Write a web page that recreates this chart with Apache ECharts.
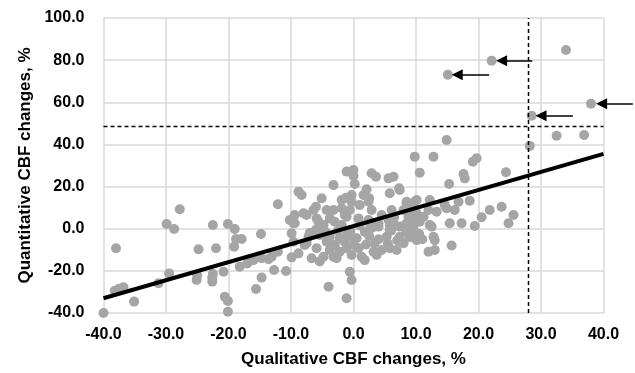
<!DOCTYPE html>
<html>
<head>
<meta charset="utf-8">
<title>CBF changes</title>
<script src="https://cdn.jsdelivr.net/npm/echarts@6/dist/echarts.min.js"></script>
<style>
  html, body { margin: 0; padding: 0; background: #fff; }
  #chart { width: 635px; height: 373px; }
</style>
</head>
<body>
<div id="chart"></div>
<script>
// qualitative (x) vs quantitative (y) CBF change, %
const points = [
  [-40, -40], [-38, -9.3], [-38.2, -29.4], [-37.5, -28.5], [-36.8, -27.8], [-35.1, -34.6],
  [-31.2, -25.9], [-29.5, -21.2], [-27.8, 9.2], [-29.9, 2.2], [-28.7, -0.1], [-25.1, -24.3],
  [-25, -22.2], [-24.8, -9.8], [-22.5, 1.8], [-22, -9.3], [-22.5, -21.5], [-22.6, -23.2],
  [-22.6, -25.1], [-20.8, -20.4], [-20.6, -32.3], [-20.1, -34.3], [-20.1, -39.4], [-20.1, 2.2],
  [-19, -0.1], [-18.8, -4.9], [-17.9, -4.9], [-19.1, -8.5], [-18.2, -18.0], [-17, -16.5],
  [-16, -14.9], [-14.8, -2.5], [-14.7, -14.0], [-13.6, -14.5], [-13.1, -13.3], [-14.7, -23.2],
  [-15.6, -28.6], [-12.7, -19.6], [-10.8, -20.1], [-12.1, 11.6], [-12.1, -10.9], [-10.2, 4.1],
  [-9.9, -2.2], [-9.9, -13.6], [-9.6, 2.6], [-8.8, -11.7],
  [-8.8, 17.6], [-8.3, 16.0], [-5.1, 14.4], [-6.0, 10.4], [-6.4, 8.9], [-9.4, 6.5],
  [-8.0, 7.3], [-7.5, 6.5], [-4.3, 8.9], [-3.2, 8.9], [-1.9, 9.7], [-1.9, 13.6],
  [-1.1, 27.1], [-3.2, 20.7], [-9.4, 2.6], [-5.6, 3.3], [-4.8, 1.8], [-3.8, 4.9],
  [-3.0, 3.3], [-1.9, 1.8], [-1.4, 6.5], [-1.2, 14.7], [-5.9, 4.9], [-1.1, 5.7],
  [-6.7, -14.0], [-5.4, -15.6], [-4.8, -13.3], [-4.0, -27.5], [-1.1, -33.0], [-9.6, -6.2],
  [-7.5, -6.9], [-7.8, -7.7], [-5.9, -9.3], [-4.3, -6.2], [-3.0, -7.7], [-2.2, -10.9],
  [-1.1, -9.3], [-5.4, -3.0], [-3.8, -3.8], [-2.2, -4.6], [-1.4, -6.2], [-3.2, -13.3],
  [-7.0, -2.0], [-6.0, -0.5], [-4.5, -1.5], [-2.5, -1.0], [-1.0, -2.5], [-7.2, -3.8],
  [-5.4, -1.4], [-3.8, -10.1], [-2.7, -14.0],
  [0, 27.9], [0, 25.0], [0.2, 21.2], [2.9, 26.3], [3.6, 24.7], [5.6, 23.9],
  [6.4, 24.7], [2.1, 18.7], [7.3, 19.2], [5.8, 16.8], [1.6, 16.0], [-0.3, 16.0],
  [-0.3, 12.8], [-0.6, 8.9], [1.0, 11.2], [2.9, 8.9], [4.5, 6.5], [6.1, 8.9],
  [8.5, 12.1], [8.0, 8.9], [9.6, 10.4], [0.8, 4.9], [2.4, 4.1], [4.0, 2.6],
  [5.6, 4.1], [6.6, 1.8], [8.5, 2.6], [9.3, 3.3], [2.5, 14.4], [2.4, 12.8],
  [2.6, 2.6], [5.8, 1.8], [5.8, -0.6], [7.4, 1.0], [8.8, 5.7], [10.1, 7.3], [10.6, 3.3],
  [-0.6, -20.4], [-0.3, -24.3], [-0.3, -12.5], [1.8, -14.9], [1.3, -13.3], [3.7, -12.5],
  [4.5, -10.1], [6.9, -10.1], [8.0, -6.9], [3.4, -6.9], [0.8, -9.3], [5.3, -3.8],
  [7.4, -3.8], [9.3, -1.4], [1.8, -1.4], [4.0, 1.0], [0.5, -4.5], [2.5, -3.5],
  [6.0, -1.0], [3.0, 0.5], [1.0, 1.5], [-0.5, -1.0], [2.0, -7.5], [5.5, -7.0],
  [7.0, -5.5], [9.0, -4.0], [10.5, -2.5], [11, -5], [8.5, 0.5], [6.5, 5.5], [4.0, -5.0],
  [-0.3, -3.8], [0, -7.7], [3.2, -10.9], [5.8, -9.3], [8.5, -1.4], [10.1, -5.4],
  [12.8, -3.8], [13.0, -5.4], [12.0, -10.9], [13.0, -10.1], [15.7, -8.0], [15.4, 2.6],
  [17.3, 2.6], [19.4, 1.3], [20.5, 5.4], [21.8, 8.9], [23.7, 10.4], [25.6, 6.5],
  [24.8, 2.6], [18.6, 13.3], [16.8, 12.8], [14.9, 9.7], [13.3, 8.1], [14.6, 11.3],
  [10.1, 13.6], [12.2, 13.6], [8.5, 12.8], [7.4, 18.4], [15.3, 21.2], [14.9, 42.1],
  [9.8, 34.2], [12.8, 34.2], [10.6, 26.6], [19.1, 31.8], [19.7, 33.4], [17.6, 26.0],
  [17.8, 23.9], [24.4, 26.8], [12.5, 1.0], [11.2, 5.7], [9.6, 1.0], [10.1, 4.1],
  [12.0, 8.9], [9.0, 8.9], [9.8, 12.8], [16.2, 8.9], [12.2, 1.8], [28.2, 39.3],
  [22.1, 79.7], [15.1, 73.1], [34.0, 84.8], [38.0, 59.3], [28.5, 53.6], [32.5, 44.1], [36.9, 44.5]
]

// fitted line end points
const regression = [[-40, -33], [40, 35.5]]

// dashed cut-offs
const cutoffX = 28
const cutoffY = 48.5

// arrows pointing at outliers: [tailX, headX, y]
const arrows = [
  [28.6, 23.7, 79.7],
  [21.7, 16.6, 73.1],
  [35.1, 30.0, 53.6],
  [44.7, 39.7, 59.3]
]

const xMin = -40, xMax = 40, xStep = 10
const yMin = -40, yMax = 100, yStep = 20

const chart = echarts.init(document.getElementById('chart'))

const labelFont = {
  color: '#000',
  fontFamily: 'Liberation Sans, Arial, sans-serif',
  fontWeight: 'bold',
  fontSize: 16
}
const nameFont = {
  color: '#000',
  fontFamily: 'Liberation Sans, Arial, sans-serif',
  fontWeight: 'bold',
  fontSize: 17
}

chart.setOption({
  animation: false,
  backgroundColor: '#fff',
  grid: {
    left: 103.5,
    right: 31.5,
    top: 18,
    bottom: 60
  },
  xAxis: {
    type: 'value',
    min: xMin,
    max: xMax,
    interval: xStep,
    name: 'Qualitative CBF changes, %',
    nameLocation: 'middle',
    nameGap: 38,
    nameTextStyle: nameFont,
    axisLine: { show: false },
    axisTick: { show: false },
    axisLabel: {
      ...labelFont,
      margin: 14,
      formatter: v => v.toFixed(1)
    },
    splitLine: { show: true, lineStyle: { color: '#d9d9d9', width: 1.5 } }
  },
  yAxis: {
    type: 'value',
    min: yMin,
    max: yMax,
    interval: yStep,
    name: 'Quantitative CBF changes, %',
    nameLocation: 'middle',
    nameGap: 70,
    nameTextStyle: nameFont,
    axisLine: { show: false },
    axisTick: { show: false },
    axisLabel: {
      ...labelFont,
      margin: 19,
      formatter: v => v.toFixed(1)
    },
    splitLine: { show: true, lineStyle: { color: '#d9d9d9', width: 1.5 } }
  },
  series: [
    {
      type: 'scatter',
      data: points,
      symbolSize: 10,
      itemStyle: { color: '#a5a5a5', opacity: 1 },
      z: 2
    },
    {
      type: 'line',
      data: regression,
      symbol: 'none',
      lineStyle: { color: '#000', width: 4 },
      z: 3
    },
    {
      type: 'line',
      data: [[cutoffX, yMin], [cutoffX, yMax]],
      symbol: 'none',
      lineStyle: { color: '#000', width: 1.5, type: [4, 3] },
      z: 4
    },
    {
      type: 'line',
      data: [[xMin, cutoffY], [xMax, cutoffY]],
      symbol: 'none',
      lineStyle: { color: '#000', width: 1.5, type: [4, 3] },
      z: 4
    },
    {
      type: 'lines',
      coordinateSystem: 'cartesian2d',
      clip: false,
      symbol: ['none', 'triangle'],
      symbolSize: [9, 11],
      lineStyle: { color: '#000', width: 1.5, opacity: 1 },
      data: arrows.map(a => ({ coords: [[a[0], a[2]], [a[1], a[2]]] })),
      z: 5
    }
  ]
})
</script>
</body>
</html>
